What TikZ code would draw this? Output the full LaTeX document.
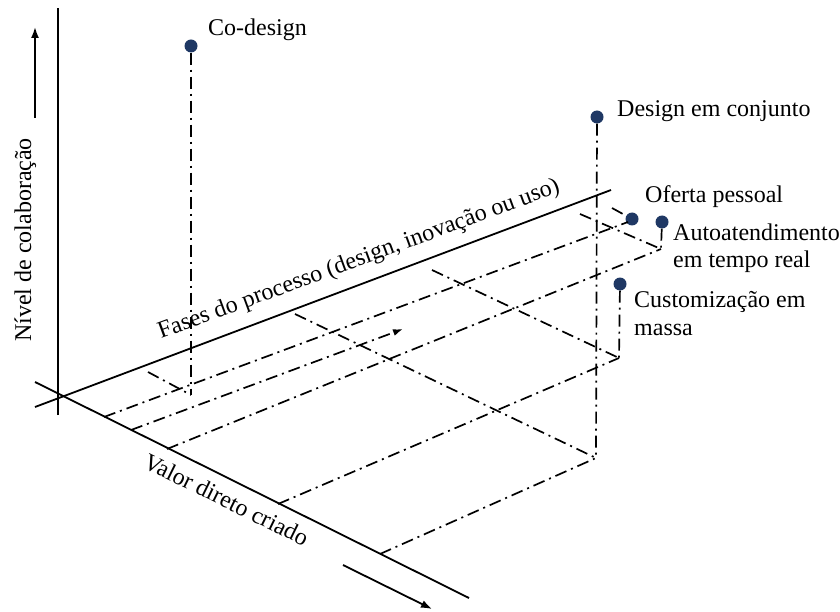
\documentclass[tikz,border=0pt]{standalone}
\usepackage{fontspec}
\setmainfont{Liberation Serif}
\usetikzlibrary{arrows.meta}
\definecolor{dotblue}{HTML}{1F3864}
\begin{document}
\begin{tikzpicture}[x=1pt,y=-1pt,
  axis/.style={line width=1.8pt},
  guide/.style={line width=1.7pt, dash pattern=on 12pt off 5pt on 2pt off 5pt},
  dirarrow/.style={line width=1.8pt, -{Latex[length=11pt,width=8pt]}},
  pt/.style={circle, fill=dotblue, inner sep=0pt, minimum size=13pt},
  lbl/.style={font=\fontsize{24}{28}\selectfont, inner sep=0pt}]
\useasboundingbox (0,0) rectangle (840,612);

% axes
\coordinate (Ntop) at (58,8);   \coordinate (Nbot) at (58,415);
\coordinate (Fs) at (35,407);   \coordinate (Fe) at (611,190);
\coordinate (Vs) at (35,382);   \coordinate (Ve) at (469,598);
\draw[axis] (Nbot) -- (Ntop);
\draw[axis] (Fs) -- (Fe);
\draw[axis] (Vs) -- (Ve);

% direction arrows
\coordinate (na0) at (35,118);  \coordinate (na1) at (35,27);
\coordinate (va0) at (343,565); \coordinate (va1) at (432,609);
\draw[dirarrow] (na0) -- (na1);
\draw[dirarrow] (va0) -- (va1);

% points
\coordinate (coB) at (191,395);
\coordinate (deB) at (596,458);
\coordinate (auB) at (661,249);
\coordinate (cuB) at (619,358);
\coordinate (ofB) at (628,222);

% feet on the phase axis
\coordinate (coF) at (148,372);
\coordinate (deF) at (295,314);
\coordinate (cuF) at (432,270);
\coordinate (auF) at (580,214);
\coordinate (ofF) at (612,208);

% feet on the value axis
\coordinate (v1) at (104,417);
\coordinate (v2) at (131,430);
\coordinate (v3) at (167,449);
\coordinate (v4) at (278,504);
\coordinate (v5) at (380,554);
\coordinate (arr) at (403,329);

\node[pt] (co) at (191,46) {};
\node[pt] (de) at (597,117) {};
\node[pt] (of) at (632,219) {};
\node[pt] (au) at (662,222) {};
\node[pt] (cu) at (620,284) {};

% guide lines
\draw[guide] (co) -- (coB);
\draw[guide] (de) -- (deB);
\draw[guide] (au) -- (auB);
\draw[guide] (cu) -- (cuB);

\draw[guide] (coF) -- (coB);
\draw[guide] (deF) -- (deB);
\draw[guide] (cuF) -- (cuB);
\draw[guide] (auF) -- (auB);
\draw[guide] (ofF) -- (of);

\draw[guide] (v1) -- (ofB);
\draw[guide, -{Latex[length=10pt,width=7pt]}] (v2) -- (arr);
\draw[guide] (v3) -- (auB);
\draw[guide] (v4) -- (cuB);
\draw[guide] (v5) -- (deB);

% labels
\node[lbl, anchor=base west] (tco) at (208,36) {Co-design};
\node[lbl, anchor=base west] (tde) at (617,117) {Design em conjunto};
\node[lbl, anchor=base west] (tof) at (645,203) {Oferta pessoal};
\node[lbl, anchor=base west, align=left] (tau) at (673,268) {Autoatendimento\\em tempo real};
\node[lbl, anchor=base west, align=left] (tcu) at (634,335) {Customização em\\massa};
\node[lbl, anchor=base, rotate=90] (tn) at (31,240) {Nível de colaboração};
\node[lbl, anchor=base west, rotate=20.2] (tf) at (161,339) {Fases do processo (design, inovação ou uso)};
\node[lbl, anchor=base west, rotate=-26.2] (tv) at (142,467) {Valor direto criado};
\end{tikzpicture}
\end{document}
